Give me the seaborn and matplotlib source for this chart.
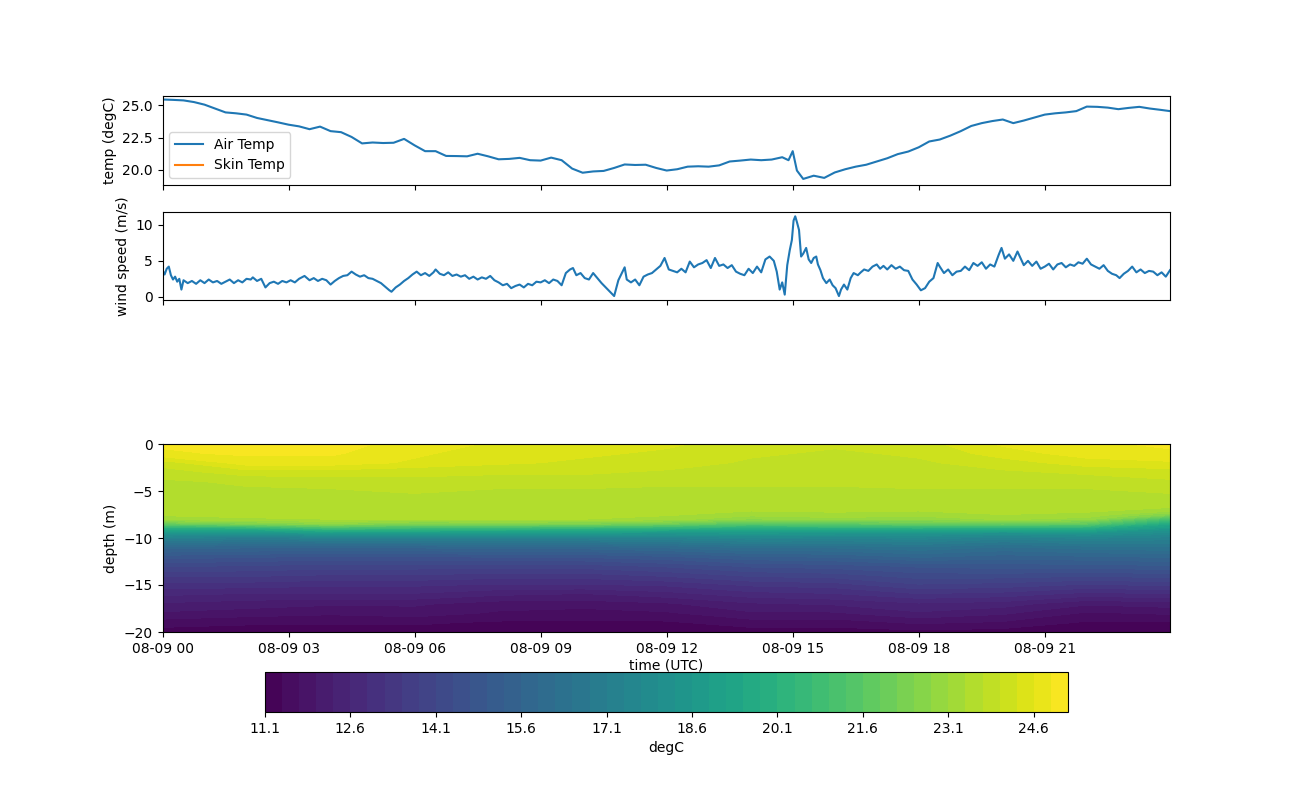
import numpy as np
import pandas as pd
import matplotlib
matplotlib.use('Agg')
import matplotlib.pyplot as plt
import matplotlib.dates as mdates
import seaborn as sns

BASE_DAY = pd.Timestamp('2019-08-09')

# air temperature (degC), hours since 00 UTC
air_hours = [0.00, 0.25, 0.50, 0.75, 1.00, 1.25, 1.50, 1.75, 2.00, 2.25, 2.50, 2.75,
             3.00, 3.25, 3.50, 3.75, 4.00, 4.25, 4.50, 4.75, 5.00, 5.25, 5.50, 5.75,
             6.00, 6.25, 6.50, 6.75, 7.00, 7.25, 7.50, 7.75, 8.00, 8.25, 8.50, 8.75,
             9.00, 9.25, 9.50, 9.75, 10.00, 10.25, 10.50, 10.75, 11.00, 11.25, 11.50, 11.75,
             12.00, 12.25, 12.50, 12.75, 13.00, 13.25, 13.50, 13.75, 14.00, 14.25, 14.50, 14.75,
             14.90, 15.00, 15.10, 15.25, 15.50, 15.75, 16.00, 16.25, 16.50, 16.75, 17.00, 17.25,
             17.50, 17.75, 18.00, 18.25, 18.50, 18.75, 19.00, 19.25, 19.50, 19.75, 20.00, 20.25,
             20.50, 20.75, 21.00, 21.25, 21.50, 21.75, 22.00, 22.25, 22.50, 22.75, 23.00, 23.25,
             23.50, 23.75, 23.98]
air_temp = [25.45, 25.42, 25.38, 25.25, 25.05, 24.75, 24.45, 24.38, 24.28, 24.02, 23.85, 23.68,
            23.50, 23.37, 23.15, 23.35, 23.00, 22.92, 22.55, 22.05, 22.12, 22.08, 22.10, 22.40,
            21.90, 21.45, 21.45, 21.08, 21.07, 21.05, 21.25, 21.05, 20.82, 20.85, 20.93, 20.75,
            20.72, 20.95, 20.75, 20.10, 19.78, 19.88, 19.92, 20.15, 20.42, 20.38, 20.40, 20.15,
            19.95, 20.05, 20.25, 20.28, 20.25, 20.35, 20.65, 20.72, 20.80, 20.75, 20.80, 20.98,
            20.75, 21.45, 19.95, 19.30, 19.55, 19.38, 19.80, 20.05, 20.25, 20.40, 20.65, 20.90,
            21.22, 21.42, 21.75, 22.20, 22.35, 22.65, 23.00, 23.40, 23.62, 23.78, 23.90, 23.62,
            23.82, 24.05, 24.28, 24.38, 24.45, 24.55, 24.90, 24.88, 24.82, 24.70, 24.80, 24.88,
            24.75, 24.65, 24.55]

# wind speed (m/s)
wind_hours = [0.00, 0.05, 0.10, 0.15, 0.20, 0.25, 0.30, 0.35, 0.40, 0.45, 0.50, 0.60,
              0.70, 0.80, 0.90, 1.00, 1.10, 1.20, 1.30, 1.40, 1.50, 1.60, 1.70, 1.80,
              1.90, 2.00, 2.10, 2.15, 2.25, 2.35, 2.45, 2.55, 2.65, 2.75, 2.85, 2.95,
              3.05, 3.15, 3.25, 3.38, 3.50, 3.60, 3.70, 3.80, 3.90, 4.00, 4.10, 4.20,
              4.30, 4.40, 4.50, 4.60, 4.70, 4.80, 4.90, 5.00, 5.10, 5.20, 5.30, 5.40,
              5.45, 5.55, 5.65, 5.75, 5.85, 5.95, 6.05, 6.15, 6.25, 6.35, 6.45, 6.50,
              6.60, 6.70, 6.80, 6.90, 7.00, 7.10, 7.20, 7.30, 7.40, 7.50, 7.60, 7.70,
              7.80, 7.90, 8.00, 8.10, 8.20, 8.30, 8.40, 8.50, 8.60, 8.70, 8.80, 8.90,
              9.00, 9.10, 9.20, 9.30, 9.40, 9.50, 9.60, 9.70, 9.77, 9.85, 9.95, 10.05,
              10.15, 10.25, 10.35, 10.45, 10.55, 10.65, 10.75, 10.85, 10.95, 11.00, 11.05, 11.15,
              11.25, 11.35, 11.45, 11.55, 11.65, 11.75, 11.85, 11.95, 12.05, 12.15, 12.25, 12.35,
              12.45, 12.55, 12.65, 12.75, 12.85, 12.95, 13.05, 13.15, 13.25, 13.35, 13.45, 13.55,
              13.65, 13.75, 13.85, 13.95, 14.05, 14.15, 14.25, 14.35, 14.45, 14.55, 14.62, 14.69,
              14.75, 14.81, 14.87, 14.93, 14.98, 15.02, 15.06, 15.10, 15.15, 15.20, 15.25, 15.32,
              15.38, 15.44, 15.50, 15.56, 15.60, 15.66, 15.72, 15.80, 15.88, 15.95, 16.02, 16.10,
              16.15, 16.22, 16.30, 16.38, 16.45, 16.55, 16.62, 16.70, 16.80, 16.90, 17.00, 17.08,
              17.16, 17.25, 17.35, 17.45, 17.55, 17.65, 17.75, 17.85, 17.95, 18.05, 18.15, 18.25,
              18.35, 18.45, 18.50, 18.60, 18.70, 18.80, 18.90, 19.00, 19.10, 19.20, 19.30, 19.40,
              19.50, 19.60, 19.70, 19.80, 19.90, 19.97, 20.05, 20.15, 20.25, 20.35, 20.42, 20.50,
              20.60, 20.70, 20.80, 20.90, 21.00, 21.10, 21.20, 21.30, 21.40, 21.50, 21.60, 21.70,
              21.80, 21.90, 22.00, 22.10, 22.20, 22.30, 22.40, 22.50, 22.60, 22.70, 22.78, 22.88,
              22.98, 23.08, 23.18, 23.28, 23.38, 23.48, 23.58, 23.68, 23.78, 23.88, 23.98]
wind_speed = [3.7, 3.1, 3.9, 4.2, 3.0, 2.4, 2.8, 2.1, 2.5, 1.0, 2.3, 1.9,
              2.2, 1.8, 2.3, 1.9, 2.4, 2.0, 2.2, 1.8, 2.1, 2.4, 1.9, 2.3,
              2.0, 2.5, 2.4, 2.7, 2.2, 2.5, 1.3, 1.9, 2.1, 1.8, 2.2, 2.0,
              2.3, 2.0, 2.5, 2.9, 2.3, 2.6, 2.2, 2.5, 2.3, 1.7, 2.2, 2.6,
              2.9, 3.0, 3.5, 3.1, 2.8, 3.0, 2.6, 2.5, 2.2, 1.9, 1.4, 0.9,
              0.7, 1.3, 1.7, 2.2, 2.6, 3.1, 3.5, 3.0, 3.3, 2.9, 3.4, 3.8,
              3.2, 3.0, 3.4, 2.9, 3.1, 2.8, 3.0, 2.5, 2.8, 2.4, 2.7, 2.5,
              2.9, 2.3, 2.0, 1.6, 1.8, 1.2, 1.5, 1.7, 1.3, 1.8, 1.6, 2.1,
              2.0, 2.3, 1.9, 2.4, 2.2, 1.6, 3.3, 3.8, 4.0, 3.0, 3.3, 2.6,
              2.4, 3.3, 2.6, 1.9, 1.3, 0.7, 0.1, 2.3, 3.5, 4.1, 2.4, 2.0,
              2.4, 1.6, 2.8, 3.1, 3.3, 3.8, 4.3, 5.4, 3.8, 3.6, 3.4, 3.9,
              3.4, 4.9, 4.1, 4.5, 4.7, 5.1, 4.0, 5.4, 4.3, 4.5, 4.0, 4.4,
              3.5, 3.2, 3.0, 3.9, 3.3, 4.2, 3.4, 5.2, 5.6, 5.0, 3.5, 1.0,
              2.0, 0.3, 4.4, 6.5, 7.9, 10.6, 11.2, 10.4, 9.3, 5.6, 6.0, 6.8,
              5.2, 4.7, 5.4, 5.6, 4.5, 3.7, 2.6, 1.9, 2.4, 1.6, 1.2, 0.1,
              1.0, 1.7, 1.0, 2.6, 3.3, 3.0, 3.4, 3.8, 3.6, 4.2, 4.5, 3.9,
              4.3, 3.8, 4.4, 3.9, 4.2, 3.7, 3.6, 2.4, 1.7, 0.9, 1.2, 2.1,
              2.6, 4.7, 4.2, 3.3, 3.8, 3.0, 3.5, 3.6, 4.2, 3.7, 4.7, 4.3,
              4.8, 3.9, 4.5, 4.2, 5.8, 6.8, 5.3, 5.9, 5.0, 6.3, 5.4, 4.4,
              5.0, 4.3, 4.9, 3.9, 4.2, 4.6, 3.8, 4.5, 4.7, 4.1, 4.5, 4.3,
              4.8, 4.6, 5.3, 4.5, 4.2, 3.9, 4.4, 3.6, 3.2, 3.0, 2.6, 3.2,
              3.6, 4.2, 3.4, 3.8, 3.3, 3.6, 3.5, 3.0, 3.4, 2.8, 3.7]

# water temperature section (degC): one profile per time, top to bottom
section_hours = [0, 2, 4, 6, 8, 10, 12, 14, 16, 18, 20, 22, 23.98]
depths = [0, -1, -2, -3, -4, -5, -6, -7, -7.5, -8, -8.5, -9, -9.5, -10,
          -11, -12, -13, -14, -15, -16, -17, -18, -19, -20]
profiles = [
    [24.95, 24.85, 24.15, 23.85, 23.65, 23.55, 23.55, 23.50, 23.45, 23.25, 21.85, 19.65, 18.35, 17.25, 15.75, 14.85, 14.15, 13.55, 13.05, 12.65, 12.25, 11.95, 11.55, 11.25],
    [25.05, 24.95, 24.75, 24.15, 23.75, 23.65, 23.55, 23.55, 23.50, 23.35, 22.35, 19.85, 18.25, 17.05, 15.65, 14.75, 14.05, 13.55, 13.05, 12.55, 12.15, 11.85, 11.45, 11.25],
    [25.05, 24.95, 24.75, 24.15, 23.85, 23.65, 23.55, 23.55, 23.50, 23.40, 22.75, 20.65, 18.65, 17.15, 15.65, 14.65, 13.95, 13.45, 12.95, 12.55, 12.05, 11.75, 11.45, 11.25],
    [24.75, 24.65, 24.55, 24.05, 23.95, 23.75, 23.55, 23.55, 23.50, 23.40, 22.35, 20.45, 18.65, 17.15, 15.65, 14.65, 13.95, 13.45, 12.95, 12.55, 12.05, 11.85, 11.45, 11.25],
    [24.55, 24.45, 24.35, 24.05, 23.85, 23.65, 23.55, 23.55, 23.50, 23.40, 22.45, 20.35, 18.55, 17.25, 15.75, 14.75, 13.95, 13.35, 12.85, 12.35, 11.85, 11.65, 11.35, 11.20],
    [24.45, 24.35, 24.25, 24.05, 23.85, 23.65, 23.55, 23.55, 23.50, 23.40, 22.35, 20.15, 18.55, 17.25, 15.75, 14.75, 13.95, 13.35, 12.85, 12.25, 11.85, 11.55, 11.35, 11.20],
    [24.35, 24.25, 24.15, 23.95, 23.75, 23.65, 23.55, 23.55, 23.45, 23.25, 22.05, 19.95, 18.45, 17.35, 15.95, 14.95, 14.15, 13.55, 12.95, 12.45, 11.95, 11.65, 11.35, 11.20],
    [24.15, 24.05, 23.95, 23.85, 23.75, 23.65, 23.55, 23.45, 23.25, 22.75, 21.35, 19.75, 18.55, 17.55, 16.25, 15.25, 14.45, 13.85, 13.25, 12.75, 12.25, 11.95, 11.55, 11.25],
    [24.05, 23.95, 23.95, 23.85, 23.75, 23.65, 23.55, 23.45, 23.35, 22.95, 21.55, 19.85, 18.45, 17.45, 16.25, 15.35, 14.55, 13.95, 13.35, 12.85, 12.35, 11.95, 11.55, 11.25],
    [24.15, 24.05, 23.95, 23.95, 23.85, 23.65, 23.55, 23.45, 23.25, 22.85, 21.85, 19.85, 18.35, 17.55, 16.45, 15.65, 14.75, 14.25, 13.75, 13.15, 12.55, 12.25, 11.75, 11.30],
    [24.65, 24.45, 24.15, 23.95, 23.85, 23.65, 23.55, 23.50, 23.40, 23.15, 21.95, 19.75, 18.15, 17.25, 16.15, 15.45, 14.85, 14.25, 13.65, 13.05, 12.45, 12.05, 11.65, 11.25],
    [24.85, 24.75, 24.45, 24.05, 23.85, 23.65, 23.55, 23.45, 23.35, 22.95, 21.65, 19.75, 18.35, 17.45, 16.35, 15.55, 14.85, 14.15, 13.45, 12.75, 12.05, 11.65, 11.35, 11.20],
    [24.95, 24.85, 24.55, 24.15, 23.95, 23.75, 23.55, 23.35, 22.55, 20.95, 19.55, 18.55, 17.85, 17.25, 16.45, 15.65, 14.95, 14.25, 13.55, 12.85, 12.15, 11.75, 11.35, 11.20],
]
cbar_levels = np.round(np.arange(11.1, 25.25, 0.3), 1)


def to_datenum(hours):
    stamps = BASE_DAY + pd.to_timedelta(np.asarray(hours, dtype=float), unit='h')
    return mdates.date2num(stamps.to_pydatetime())


def main():
    fig = plt.figure(figsize=(13, 8), dpi=100)
    ax_air = fig.add_axes([0.125, 0.76875, 0.775, 0.11125])
    ax_wind = fig.add_axes([0.125, 0.625, 0.775, 0.11], sharex=ax_air)
    ax_sec = fig.add_axes([0.125, 0.21, 0.775, 0.235], sharex=ax_air)
    cax = fig.add_axes([0.2038, 0.11, 0.6177, 0.05])

    blue = '#1f77b4'
    air_df = pd.DataFrame({'t': to_datenum(air_hours), 'temp': air_temp})
    wind_df = pd.DataFrame({'t': to_datenum(wind_hours), 'ws': wind_speed})

    # top panel: air temp (skin temp has no data, legend entry only)
    sns.lineplot(data=air_df, x='t', y='temp', ax=ax_air, color=blue,
                 linewidth=1.5, label='Air Temp')
    ax_air.plot([], [], color='#ff7f0e', linewidth=1.5, label='Skin Temp')
    ax_air.legend(loc='lower left')
    ax_air.set_ylabel('temp (degC)')
    ax_air.set_xlabel('')
    ax_air.set_ylim(18.83, 25.72)
    ax_air.set_yticks([20.0, 22.5, 25.0])

    # middle panel: wind speed
    sns.lineplot(data=wind_df, x='t', y='ws', ax=ax_wind, color=blue, linewidth=1.5)
    ax_wind.set_ylabel('wind speed (m/s)')
    ax_wind.set_xlabel('')
    ax_wind.set_ylim(-0.45, 11.8)
    ax_wind.set_yticks([0, 5, 10])

    # bottom panel: temperature section
    T = np.array(profiles).T
    X, Y = np.meshgrid(to_datenum(section_hours), depths)
    cs = ax_sec.contourf(X, Y, T, levels=cbar_levels, cmap='viridis')
    ax_sec.set_ylim(-20, 0)
    ax_sec.set_yticks([-20, -15, -10, -5, 0])
    ax_sec.set_ylabel('depth (m)')
    ax_sec.set_xlabel('time (UTC)', labelpad=2)

    cb = fig.colorbar(cs, cax=cax, orientation='horizontal')
    cb.set_ticks(cbar_levels[::5])
    cb.set_ticklabels([f'{v:.1f}' for v in cbar_levels[::5]])
    cb.set_label('degC')

    ax_sec.set_xlim(to_datenum([0])[0], to_datenum([23.98])[0])
    ax_sec.xaxis.set_major_locator(mdates.HourLocator(byhour=range(0, 24, 3)))
    ax_sec.xaxis.set_major_formatter(mdates.DateFormatter('%m-%d %H'))
    for ax in (ax_air, ax_wind):
        ax.tick_params(labelbottom=False)

    fig.savefig('out.png', dpi=100)
    plt.close(fig)


if __name__ == '__main__':
    main()
